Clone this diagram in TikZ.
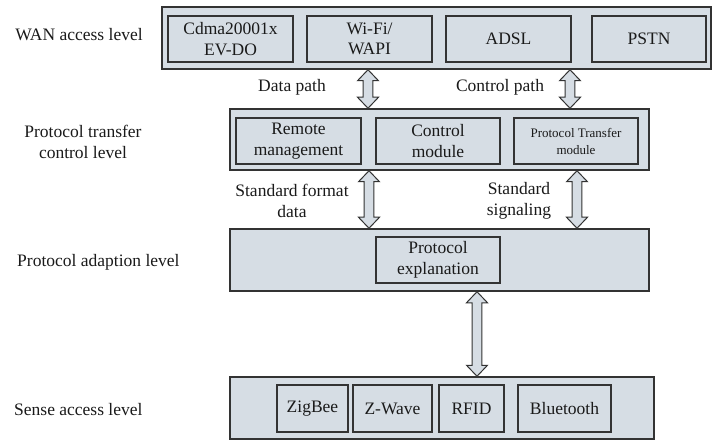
\documentclass[tikz,border=0pt]{standalone}
\usepackage{fontspec}
\setmainfont{Liberation Serif}
\usetikzlibrary{calc}

\definecolor{panel}{HTML}{D6DDE4}
\definecolor{edge}{HTML}{333333}
\definecolor{ink}{HTML}{1A1A1A}

% vertical double-headed hollow block arrow between two named points
\newcommand\dblarrow[2]{%
  \draw[blockarrow] let \p1=(#1), \p2=(#2) in
    (\x1,\y1) -- (\x1+10.5pt,\y1-11pt) -- (\x1+4.8pt,\y1-11pt)
    -- (\x1+4.8pt,\y2+11pt) -- (\x1+10.5pt,\y2+11pt) -- (\x1,\y2)
    -- (\x1-10.5pt,\y2+11pt) -- (\x1-4.8pt,\y2+11pt)
    -- (\x1-4.8pt,\y1-11pt) -- (\x1-10.5pt,\y1-11pt) -- cycle;}

\begin{document}
\begin{tikzpicture}[x=1pt,y=-1pt,
  every node/.style={text=ink, font=\fontsize{17.5}{20.5}\selectfont},
  levelbox/.style={draw=edge, fill=panel, line width=1.5pt, inner sep=0pt},
  unitbox/.style={draw=edge, fill=panel, line width=1.2pt, inner sep=0pt,
    align=center, minimum height=46pt},
  lbl/.style={align=center, inner sep=0pt},
  blockarrow/.style={draw=edge, fill=panel, line width=1pt, line join=miter}]

\useasboundingbox (0,0) rectangle (713,441);

% level labels
\node[lbl] (lwan) at (79,35) {WAN access level};
\node[lbl] (lptc) at (83,142) {Protocol transfer\\control level};
\node[lbl, anchor=west] (lpa) at (17,262) {Protocol adaption level};
\node[lbl, anchor=west] (lsa) at (14,410) {Sense access level};

% WAN access level
\node[levelbox, minimum width=549pt, minimum height=62pt] (wan) at (436.5,38) {};
\node[unitbox, minimum width=125pt] (cdma) at (230.5,39) {Cdma20001x\\EV-DO};
\node[unitbox, minimum width=125pt] (wifi) at (369.5,39) {Wi-Fi/\\WAPI};
\node[unitbox, minimum width=125pt] (adsl) at (508.5,39) {ADSL};
\node[unitbox, minimum width=114pt] (pstn) at (649,39) {PSTN};

% protocol transfer control level
\node[levelbox, minimum width=419pt, minimum height=61pt] (ptc) at (439.5,139.5) {};
\node[unitbox, minimum width=125pt] (remote) at (298.5,141) {Remote\\management};
\node[unitbox, minimum width=124pt] (ctrl) at (438,141) {Control\\module};
\node[unitbox, minimum width=124pt, font=\fontsize{13}{17}\selectfont] (ptm) at (576,141) {Protocol Transfer\\module};

% protocol adaption level
\node[levelbox, minimum width=419pt, minimum height=62pt] (pa) at (439.5,260) {};
\node[unitbox, minimum width=124pt] (expl) at (438,260) {Protocol\\explanation};

% sense access level
\node[levelbox, minimum width=424pt, minimum height=62pt] (sa) at (442,408) {};
\node[unitbox, minimum width=71pt, minimum height=47pt] (zig) at (312.5,408.5) {ZigBee};
\node[unitbox, minimum width=79pt, minimum height=47pt] (zw) at (392.5,408.5) {Z-Wave};
\node[unitbox, minimum width=65pt, minimum height=47pt] (rfid) at (471.5,408.5) {RFID};
\node[unitbox, minimum width=93pt, minimum height=47pt] (bt) at (564.5,408.5) {Bluetooth};

% arrow end points on the level borders
\coordinate (a1t) at (wan.south -| 368,0);
\coordinate (a1b) at (ptc.north -| 368,0);
\coordinate (a2t) at (wan.south -| 570,0);
\coordinate (a2b) at (ptc.north -| 570,0);
\coordinate (a3t) at (ptc.south -| 369,0);
\coordinate (a3b) at (pa.north -| 369,0);
\coordinate (a4t) at (ptc.south -| 577,0);
\coordinate (a4b) at (pa.north -| 577,0);
\coordinate (a5t) at (pa.south -| 477,0);
\coordinate (a5b) at (sa.north -| 477,0);

\dblarrow{a1t}{a1b}
\dblarrow{a2t}{a2b}
\dblarrow{a3t}{a3b}
\dblarrow{a4t}{a4b}
\dblarrow{a5t}{a5b}

% arrow labels
\node[lbl] (ldata) at (292,87) {Data path};
\node[lbl] (lctrl) at (500,87) {Control path};
\node[lbl] (lsfd) at (292,201) {Standard format\\data};
\node[lbl] (lsig) at (519,201) {Standard\\signaling};
\end{tikzpicture}
\end{document}
